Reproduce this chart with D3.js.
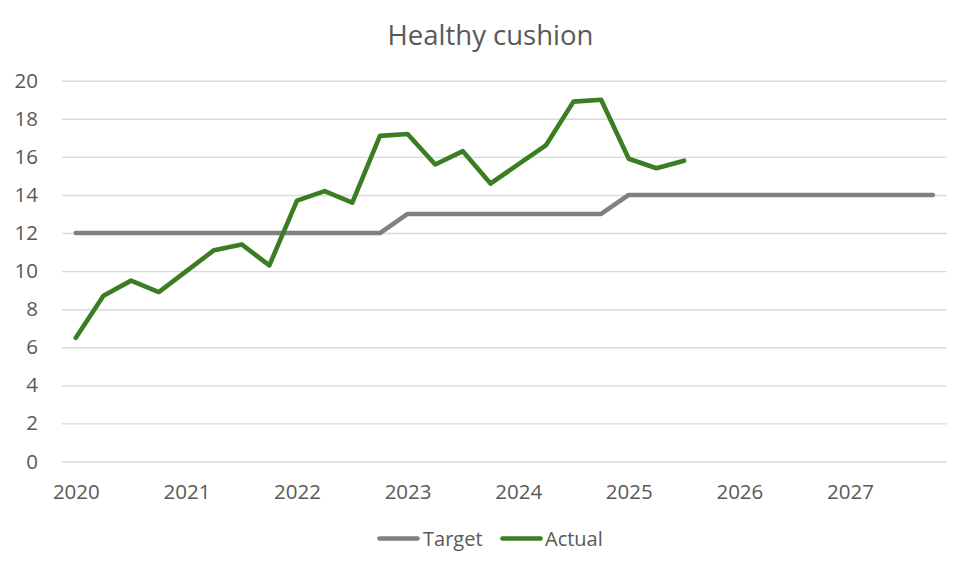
<!DOCTYPE html>
<html>
<head>
<meta charset="utf-8">
<script src="https://cdn.jsdelivr.net/npm/d3@7"></script>
<style>
  html, body { margin: 0; padding: 0; background: #fff; }
  svg { display: block; font-family: "Open Sans", sans-serif; }
</style>
</head>
<body>
<svg id="chart" width="980" height="572"></svg>
<script>
const title = "Healthy cushion";
const quarters = [
  "2020 Q1","2020 Q2","2020 Q3","2020 Q4",
  "2021 Q1","2021 Q2","2021 Q3","2021 Q4",
  "2022 Q1","2022 Q2","2022 Q3","2022 Q4",
  "2023 Q1","2023 Q2","2023 Q3","2023 Q4",
  "2024 Q1","2024 Q2","2024 Q3","2024 Q4",
  "2025 Q1","2025 Q2","2025 Q3","2025 Q4",
  "2026 Q1","2026 Q2","2026 Q3","2026 Q4",
  "2027 Q1","2027 Q2","2027 Q3","2027 Q4"
];
const yearTicks = ["2020 Q1","2021 Q1","2022 Q1","2023 Q1","2024 Q1","2025 Q1","2026 Q1","2027 Q1"];
const yearLabels = ["2020","2021","2022","2023","2024","2025","2026","2027"];
const yTicks = [0, 2, 4, 6, 8, 10, 12, 14, 16, 18, 20];
const target = [
  12, 12, 12, 12, 12, 12, 12, 12, 12, 12, 12, 12,
  13, 13, 13, 13, 13, 13, 13, 13,
  14, 14, 14, 14, 14, 14, 14, 14, 14, 14, 14, 14
];
const actual = [
  6.5, 8.7, 9.5, 8.9, 10.0, 11.1, 11.4, 10.3,
  13.7, 14.2, 13.6, 17.1, 17.2, 15.6, 16.3, 14.6,
  15.6, 16.6, 18.9, 19.0, 15.9, 15.4, 15.8
];
const seriesNames = ["Target", "Actual"];
const seriesColors = ["#808080", "#3B7D23"];

const svg = d3.select("#chart");
const plot = { left: 62, right: 946.7, top: 80.7, bottom: 461.5 };
const textColor = "#595959";

const x = d3.scalePoint().domain(quarters).range([plot.left, plot.right]).padding(0.5);
const y = d3.scaleLinear().domain([0, 20]).range([plot.bottom, plot.top]);

// Title
svg.append("text")
  .attr("x", 490.5).attr("y", 45)
  .attr("text-anchor", "middle")
  .attr("fill", textColor)
  .style("font-size", "27.5px")
  .text(title);

// Y axis with gridlines
const yAxis = svg.append("g")
  .attr("transform", `translate(${plot.left},0)`)
  .call(d3.axisLeft(y).tickValues(yTicks).tickSize(-(plot.right - plot.left)).tickPadding(24).tickFormat(d3.format("d")));
yAxis.select(".domain").remove();
yAxis.selectAll(".tick line").attr("stroke", "#d9d9d9").attr("stroke-width", 1.4);
yAxis.selectAll(".tick text")
  .attr("fill", textColor)
  .style("font-size", "20.5px")
  .style("font-family", "'Open Sans', sans-serif");

// X axis
const xAxis = svg.append("g")
  .attr("transform", `translate(0,${plot.bottom})`)
  .call(d3.axisBottom(x).tickValues(yearTicks).tickSize(0).tickPadding(22.5)
    .tickFormat((d, i) => yearLabels[i]));
xAxis.select(".domain").remove();
xAxis.selectAll(".tick text")
  .attr("fill", textColor)
  .style("font-size", "20.5px")
  .style("font-family", "'Open Sans', sans-serif");

// Lines
const line = d3.line()
  .x((d, i) => x(quarters[i]))
  .y(d => y(d));

[target, actual].forEach((vals, k) => {
  svg.append("path")
    .datum(vals)
    .attr("fill", "none")
    .attr("stroke", seriesColors[k])
    .attr("stroke-width", 4.6)
    .attr("stroke-linejoin", "round")
    .attr("stroke-linecap", "round")
    .attr("d", line);
});

// Legend
const legendItems = [
  { name: seriesNames[0], color: seriesColors[0], x0: 379.5, tx: 423 },
  { name: seriesNames[1], color: seriesColors[1], x0: 502.5, tx: 545 }
];
const legendY = 538.5;
legendItems.forEach(it => {
  svg.append("line")
    .attr("x1", it.x0).attr("x2", it.x0 + 38)
    .attr("y1", legendY).attr("y2", legendY)
    .attr("stroke", it.color).attr("stroke-width", 4.6)
    .attr("stroke-linecap", "round");
  svg.append("text")
    .attr("x", it.tx).attr("y", legendY)
    .attr("dy", "0.35em")
    .attr("fill", textColor)
    .style("font-size", "20px")
    .text(it.name);
});
</script>
</body>
</html>
